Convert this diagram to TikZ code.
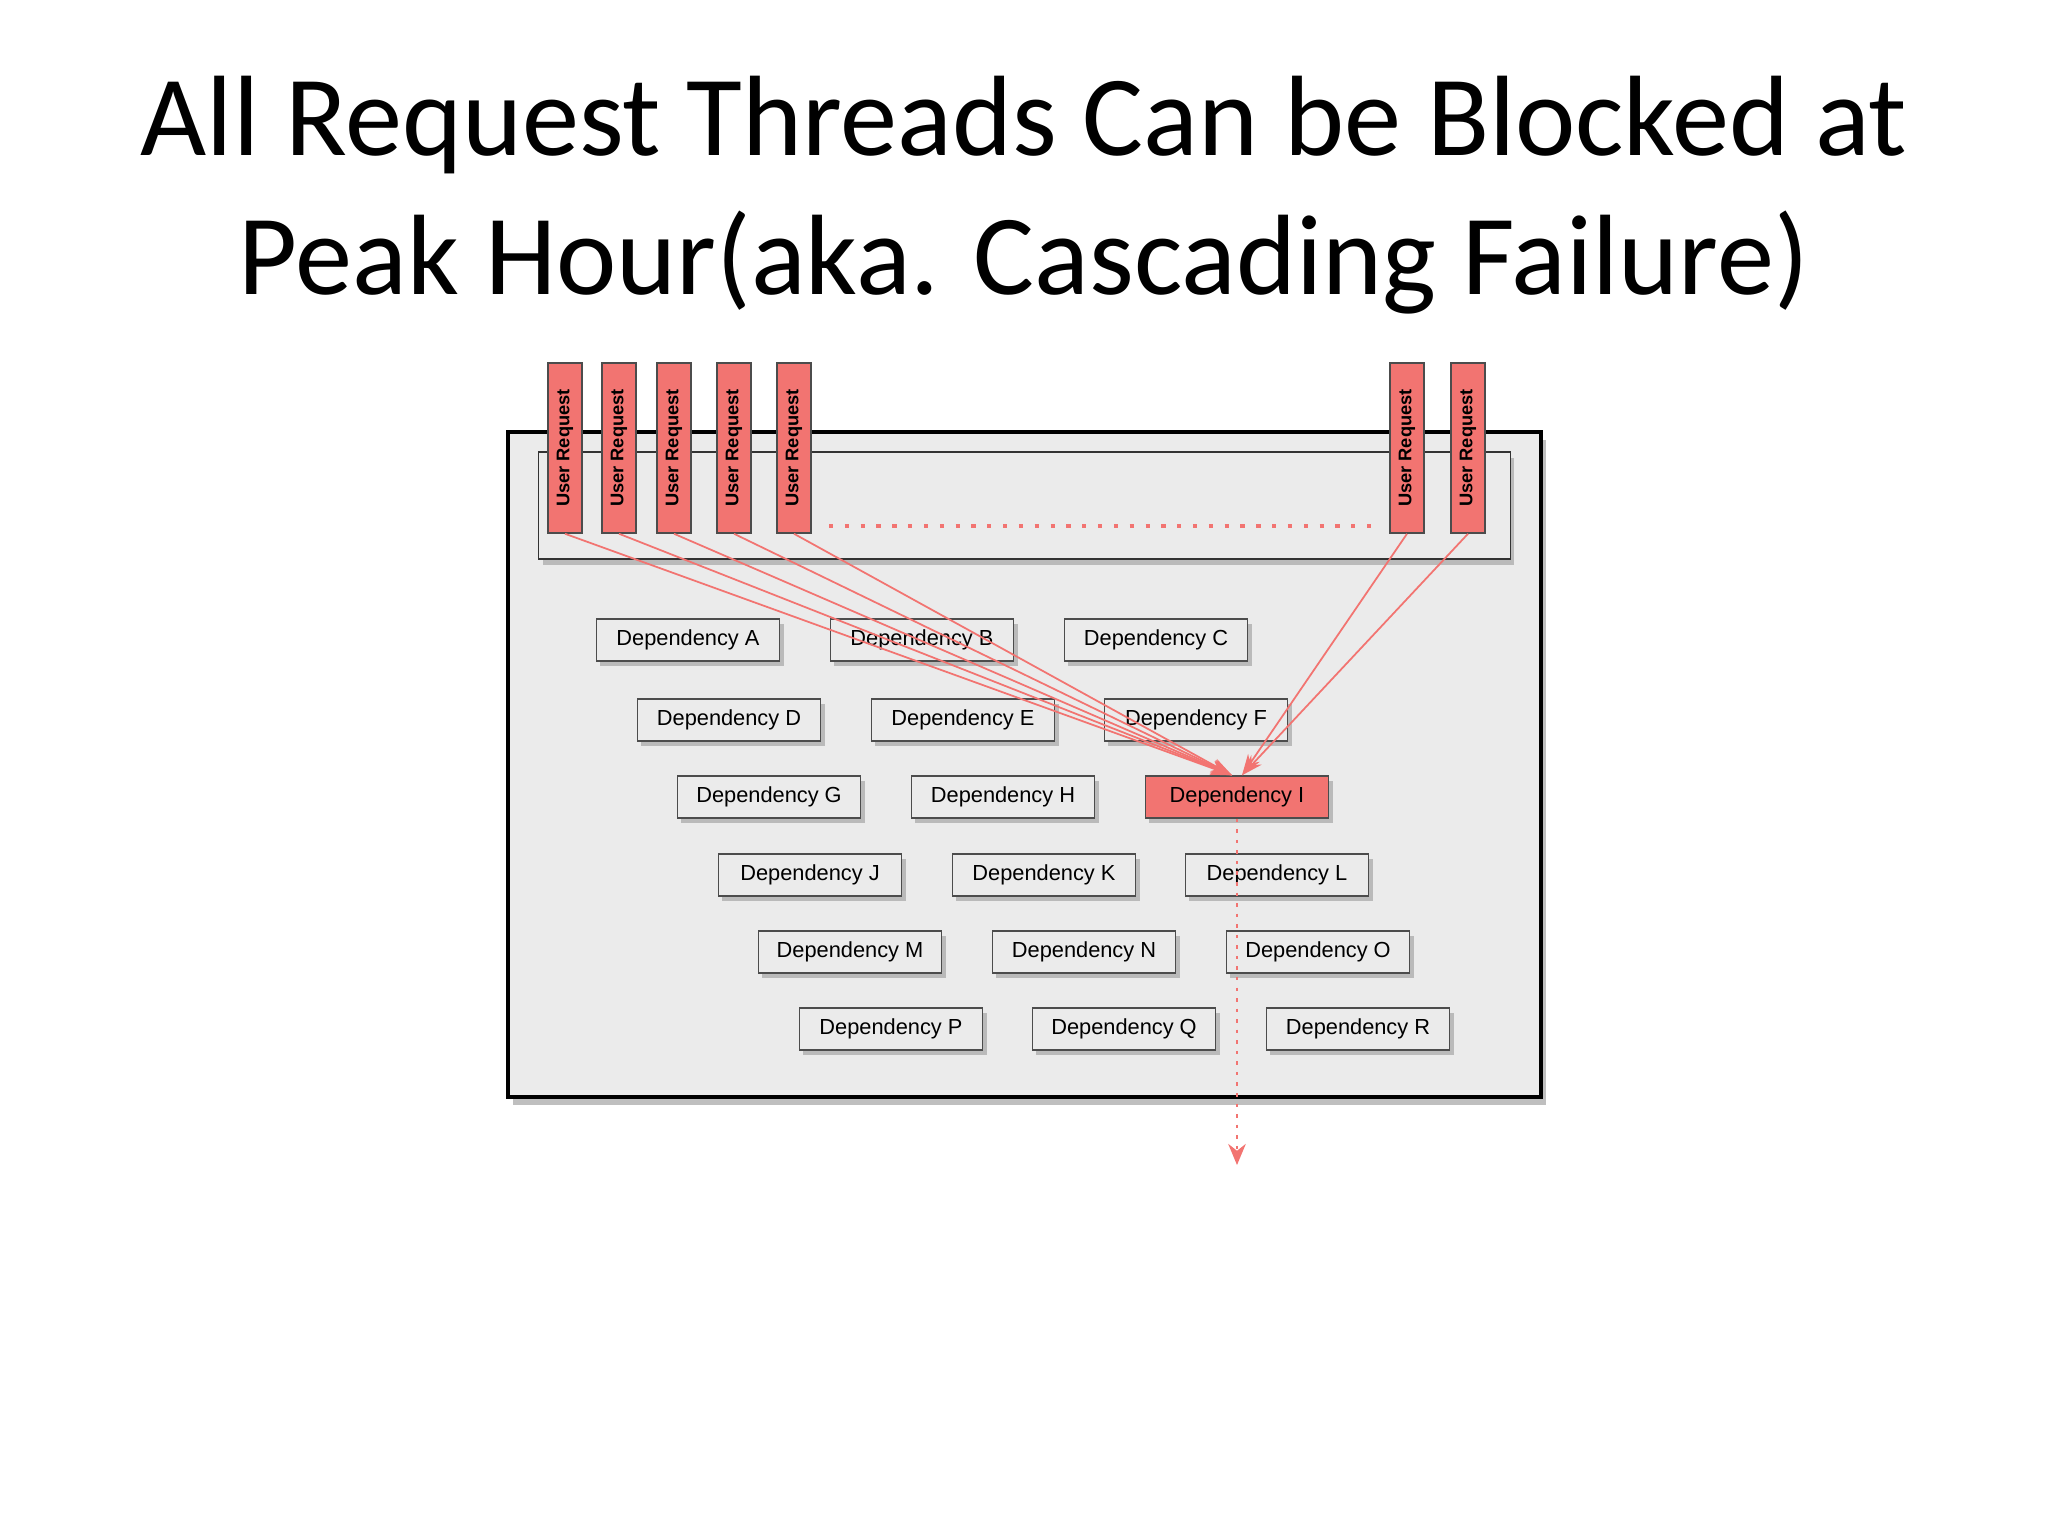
\documentclass[tikz,border=0pt]{standalone}
\usepackage{fontspec}
\setmainfont{Carlito}
\newfontfamily\arialf{Liberation Sans}
\usetikzlibrary{shadows,arrows.meta}
\definecolor{req}{HTML}{F27471}
\definecolor{panel}{HTML}{EBEBEB}
\begin{document}
\begin{tikzpicture}[x=0.01cm,y=-0.01cm,
  dep/.style={draw=black!70,fill=panel,minimum width=1.83cm,minimum height=0.42cm,inner sep=0pt,font=\arialf\fontsize{6.2}{7}\selectfont,drop shadow={shadow xshift=0.04cm,shadow yshift=-0.05cm,opacity=0.45}},
  ureq/.style={draw=black!70,fill=req,minimum width=0.34cm,minimum height=1.70cm,inner sep=0pt,font=\arialf\bfseries\fontsize{5.2}{6}\selectfont},
  conn/.style={req,line width=0.5pt,-{Stealth[length=6pt,width=4pt]}}]
\useasboundingbox (0,0) rectangle (2048,1536);
\node[font=\fontsize{32.5}{39.5}\selectfont,align=center] (title) at (1024,195) {All Request Threads Can be Blocked at\\Peak Hour(aka. Cascading Failure)};
\node[draw=black,line width=1.2pt,fill=panel,minimum width=10.33cm,minimum height=6.65cm,inner sep=0pt,drop shadow={shadow xshift=0.05cm,shadow yshift=-0.08cm,opacity=0.5}] (outer) at (1024.5,764.5) {};
\node[draw=black!80,fill=panel,minimum width=9.71cm,minimum height=1.07cm,inner sep=0pt,drop shadow={shadow xshift=0.04cm,shadow yshift=-0.06cm,opacity=0.45}] (inner) at (1024.5,505.5) {};
\foreach \n/\x in {u1/565,u2/619,u3/674,u4/734,u5/794,u6/1407,u7/1468}
  \node[ureq] (\n) at (\x,448) {\rotatebox{90}{User Request}};
\coordinate (d1) at (829,526); \coordinate (d2) at (1371,526);
\draw[req,line width=1pt,dash pattern=on 1.2pt off 3.3pt] (d1) -- (d2);
\foreach \n/\x/\y/\t in {A/688/640/A,B/922/640/B,C/1156/640/C,D/729/720/D,E/963/720/E,F/1196/720/F,G/769/797/G,H/1003/797/H,J/810/875/J,K/1044/875/K,L/1277/875/L,M/850/952/M,N/1084/952/N,O/1318/952/O,P/891/1029/P,Q/1124/1029/Q,R/1358/1029/R}
  \node[dep] (\n) at (\x,\y) {Dependency \t};
\node[dep,fill=req] (I) at (1237,797) {Dependency I};
\foreach \n in {u1,u2,u3,u4,u5} \draw[conn] (\n.south) -- ([xshift=-0.05cm]I.north);
\foreach \n in {u6,u7} \draw[conn] (\n.south) -- ([xshift=0.05cm]I.north);
\coordinate (down) at (1237,1165);
\draw[req,line width=0.5pt,dash pattern=on 1pt off 2pt,-{Stealth[length=6pt,width=5pt]}] (I.south) -- (down);
\end{tikzpicture}
\end{document}
